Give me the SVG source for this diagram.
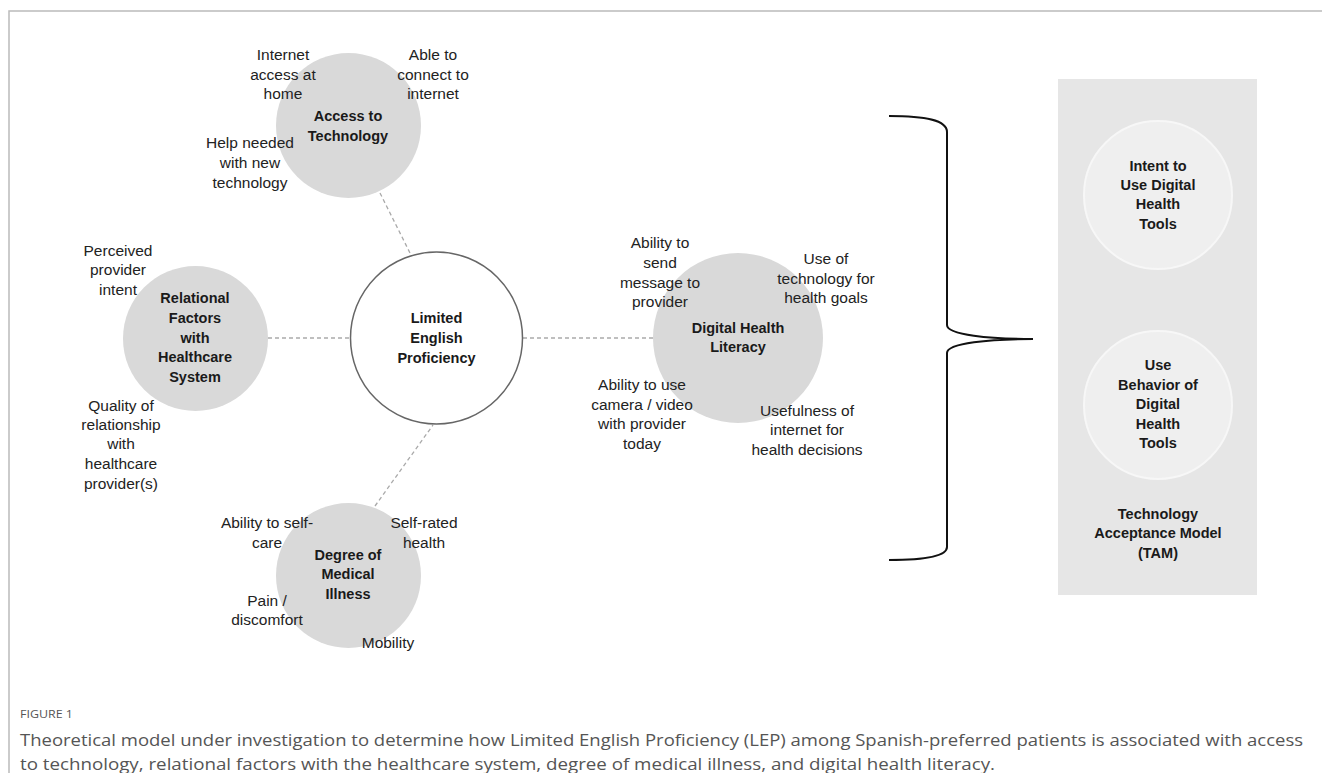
<svg xmlns="http://www.w3.org/2000/svg" width="1322" height="773" viewBox="0 0 1322 773">
  <style>
    .lbl { font-family: "Liberation Sans", Arial, sans-serif; font-size: 15.5px; fill: #222; text-anchor: middle; }
    .ttl { font-family: "Liberation Sans", Arial, sans-serif; font-size: 14.5px; font-weight: bold; fill: #1a1a1a; text-anchor: middle; }
    .factor { fill: #d9d9d9; }
    .tam { fill: #efefef; stroke: #f7f7f7; stroke-width: 2; }
    .link { stroke: #aaaaaa; stroke-width: 1.3; stroke-dasharray: 4 3; fill: none; }
    .cap { font-family: "Open Sans", "Liberation Sans", sans-serif; fill: #555; }
  </style>

  <rect width="1322" height="773" fill="#ffffff"/>

  <!-- frame -->
  <path d="M9,773 L9,11 L1322,11" fill="none" stroke="#bbbbbb" stroke-width="1.5"/>

  <!-- TAM panel background -->
  <rect x="1058" y="79" width="199" height="516" fill="#e6e6e6"/>

  <!-- connectors -->
  <g id="connectors">
    <line class="link" x1="380" y1="193" x2="410" y2="253"/>
    <line class="link" x1="268" y1="338" x2="350" y2="338"/>
    <line class="link" x1="375" y1="506" x2="433" y2="425"/>
    <line class="link" x1="523" y1="338" x2="653" y2="338"/>
    <path id="brace" d="M889,116 C925,116 947,120 947,132 L947,325 C947,335 990,339 1033,339 C990,339 947,343 947,353 L947,547 C947,556 925,560 889,560" fill="none" stroke="#111" stroke-width="2"/>
  </g>

  <!-- central node -->
  <g id="lep">
    <circle cx="436.5" cy="338" r="86" fill="#ffffff" stroke="#666666" stroke-width="1.5"/>
    <text class="ttl" x="436.5" y="323">Limited</text>
    <text class="ttl" x="436.5" y="343">English</text>
    <text class="ttl" x="436.5" y="363">Proficiency</text>
  </g>

  <g id="access">
    <circle class="factor" cx="348.5" cy="125.5" r="72.5"/>
    <text class="ttl" x="348" y="121">Access to</text>
    <text class="ttl" x="348" y="141">Technology</text>
    <text class="lbl" x="283" y="60">Internet</text>
    <text class="lbl" x="283" y="80">access at</text>
    <text class="lbl" x="283" y="99">home</text>
    <text class="lbl" x="433" y="60">Able to</text>
    <text class="lbl" x="433" y="80">connect to</text>
    <text class="lbl" x="433" y="99">internet</text>
    <text class="lbl" x="250" y="148">Help needed</text>
    <text class="lbl" x="250" y="168">with new</text>
    <text class="lbl" x="250" y="188">technology</text>
  </g>

  <g id="relational">
    <circle class="factor" cx="195.5" cy="338.5" r="72.5"/>
    <text class="ttl" x="195" y="303">Relational</text>
    <text class="ttl" x="195" y="323">Factors</text>
    <text class="ttl" x="195" y="343">with</text>
    <text class="ttl" x="195" y="362">Healthcare</text>
    <text class="ttl" x="195" y="382">System</text>
    <text class="lbl" x="118" y="256">Perceived</text>
    <text class="lbl" x="118" y="275">provider</text>
    <text class="lbl" x="118" y="295">intent</text>
    <text class="lbl" x="121" y="411">Quality of</text>
    <text class="lbl" x="121" y="430">relationship</text>
    <text class="lbl" x="121" y="449">with</text>
    <text class="lbl" x="121" y="469">healthcare</text>
    <text class="lbl" x="121" y="489">provider(s)</text>
  </g>

  <g id="medical">
    <circle class="factor" cx="348.5" cy="575.5" r="72.5"/>
    <text class="ttl" x="348" y="560">Degree of</text>
    <text class="ttl" x="348" y="579">Medical</text>
    <text class="ttl" x="348" y="599">Illness</text>
    <text class="lbl" x="267" y="528">Ability to self-</text>
    <text class="lbl" x="267" y="548">care</text>
    <text class="lbl" x="424" y="528">Self-rated</text>
    <text class="lbl" x="424" y="548">health</text>
    <text class="lbl" x="267" y="606">Pain /</text>
    <text class="lbl" x="267" y="625">discomfort</text>
    <text class="lbl" x="388" y="648">Mobility</text>
  </g>

  <g id="digital">
    <circle class="factor" cx="738" cy="338" r="85"/>
    <text class="ttl" x="738" y="333">Digital Health</text>
    <text class="ttl" x="738" y="352">Literacy</text>
    <text class="lbl" x="660" y="248">Ability to</text>
    <text class="lbl" x="660" y="268">send</text>
    <text class="lbl" x="660" y="288">message to</text>
    <text class="lbl" x="660" y="307">provider</text>
    <text class="lbl" x="826" y="264">Use of</text>
    <text class="lbl" x="826" y="284">technology for</text>
    <text class="lbl" x="826" y="303">health goals</text>
    <text class="lbl" x="642" y="390">Ability to use</text>
    <text class="lbl" x="642" y="410">camera / video</text>
    <text class="lbl" x="642" y="429">with provider</text>
    <text class="lbl" x="642" y="449">today</text>
    <text class="lbl" x="807" y="416">Usefulness of</text>
    <text class="lbl" x="807" y="435">internet for</text>
    <text class="lbl" x="807" y="455">health decisions</text>
  </g>

  <g id="intent">
    <circle class="tam" cx="1158" cy="195" r="74"/>
    <text class="ttl" x="1158" y="171">Intent to</text>
    <text class="ttl" x="1158" y="190">Use Digital</text>
    <text class="ttl" x="1158" y="209">Health</text>
    <text class="ttl" x="1158" y="229">Tools</text>
  </g>

  <g id="use-behavior">
    <circle class="tam" cx="1158" cy="405" r="74"/>
    <text class="ttl" x="1158" y="370">Use</text>
    <text class="ttl" x="1158" y="390">Behavior of</text>
    <text class="ttl" x="1158" y="409">Digital</text>
    <text class="ttl" x="1158" y="429">Health</text>
    <text class="ttl" x="1158" y="448">Tools</text>
  </g>

  <g id="tam-label">
    <text class="ttl" x="1158" y="519">Technology</text>
    <text class="ttl" x="1158" y="538">Acceptance Model</text>
    <text class="ttl" x="1158" y="558">(TAM)</text>
  </g>

  <!-- caption -->
  <g id="caption">
    <text class="cap" x="20" y="718" font-size="11" fill="#666" textLength="53" lengthAdjust="spacingAndGlyphs">FIGURE 1</text>
    <text class="cap" x="20" y="746" font-size="16" textLength="1283" lengthAdjust="spacingAndGlyphs">Theoretical model under investigation to determine how Limited English Proficiency (LEP) among Spanish-preferred patients is associated with access</text>
    <text class="cap" x="20" y="770" font-size="16" textLength="975" lengthAdjust="spacingAndGlyphs">to technology, relational factors with the healthcare system, degree of medical illness, and digital health literacy.</text>
  </g>
</svg>
